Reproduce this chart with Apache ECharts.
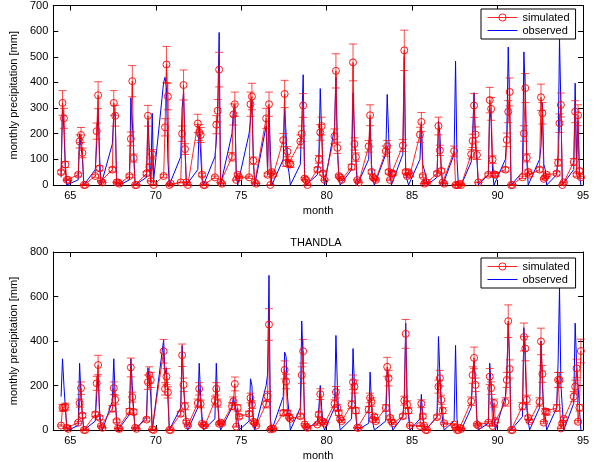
<!DOCTYPE html>
<html>
<head>
<meta charset="utf-8">
<script src="https://cdn.jsdelivr.net/npm/echarts@6/dist/echarts.min.js"></script>
<style>
  html, body { margin: 0; padding: 0; background: #fff; }
  #chart { width: 604px; height: 462px; }
</style>
</head>
<body>
<div id="chart"></div>
<script>
// years (two digits) and the monsoon months that were modelled (month number 6 = Jun ... 11 = Nov)
const years = [64, 65, 66, 67, 68, 69, 70, 71, 72, 73, 74, 75, 76, 77, 78, 79,
               80, 81, 82, 83, 84, 85, 86, 87, 88, 89, 90, 91, 92, 93, 94];
const months = [6, 7, 8, 9, 10, 11];
const xTicks = [65, 70, 75, 80, 85, 90, 95];
const simErrRel = 0.15; // error bar half width, fraction of the simulated value

// top panel, values per year Jun..Nov [mm]
const simTop = [
  [50, 320, 260, 80, 20, 20], [40, 170, 195, 125, 0, 0], [35, 210, 350, 65, 15, 10],
  [60, 320, 270, 10, 10, 5], [35, 180, 405, 105, 0, 0], [45, 270, 70, 15, 120, 0],
  [35, 225, 470, 345, 0, 5], [10, 200, 390, 140, 10, 0], [240, 205, 195, 40, 0, 0],
  [30, 235, 290, 450, 10, 5], [110, 275, 315, 20, 40, 30], [30, 315, 345, 95, 10, 5],
  [260, 40, 315, 0, 50, 40], [175, 355, 85, 130, 85, 80], [170, 200, 310, 25, 20, 0],
  [60, 100, 205, 230, 45, 20], [190, 445, 145, 35, 30, 20], [70, 478, 160, 109, 19, 10],
  [151, 272, 51, 30, 25, 20], [132, 151, 51, 20, 45, 45], [154, 525, 51, 35, 50, 40],
  [196, 246, 35, 5, 10, 10], [45, 230, 135, 55, 10, 5], [132, 0, 0, 0, 5, 0],
  [120, 172, 310, 197, 117, 10], [40, 331, 297, 99, 42, 40], [60, 176, 286, 363, 0, 0],
  [30, 201, 378, 106, 51, 40], [60, 342, 280, 24, 30, 40], [45, 87, 241, 312, 0, 10],
  [90, 286, 40, 272, 55, 30]
];
const obsTop = [
  [30, 300, 220, 60, 0, 0], [20, 200, 150, 100, 0, 0], [60, 160, 300, 120, 0, 0],
  [160, 270, 280, 0, 0, 0], [20, 340, 250, 130, 0, 0], [30, 250, 130, 10, 280, 20],
  [400, 420, 380, 100, 0, 0], [110, 300, 360, 150, 0, 0], [60, 230, 230, 20, 0, 0],
  [110, 170, 300, 595, 0, 0], [200, 290, 310, 50, 0, 0], [200, 250, 330, 100, 0, 0],
  [230, 60, 300, 130, 0, 0], [100, 300, 200, 80, 50, 0], [80, 240, 430, 40, 0, 0],
  [40, 100, 376, 200, 40, 0], [224, 420, 150, 40, 0, 0], [60, 359, 200, 100, 0, 0],
  [100, 260, 80, 20, 0, 0], [120, 353, 200, 60, 0, 0], [120, 500, 40, 20, 0, 0],
  [100, 240, 80, 60, 40, 0], [30, 250, 200, 60, 0, 0], [120, 483, 100, 0, 0, 0],
  [90, 200, 360, 150, 100, 0], [40, 300, 250, 50, 0, 0], [100, 200, 538, 300, 0, 0],
  [50, 519, 350, 100, 0, 0], [100, 150, 320, 80, 60, 0], [40, 120, 570, 300, 0, 0],
  [60, 397, 100, 250, 40, 0]
];

// bottom panel (THANDLA)
const simBot = [
  [20, 100, 100, 105, 10, 5], [33, 121, 188, 65, 0, 0], [70, 210, 292, 55, 18, 10],
  [96, 188, 136, 40, 7, 5], [84, 281, 148, 81, 10, 5], [47, 215, 247, 225, 3, 0],
  [354, 185, 240, 169, 0, 0], [73, 336, 203, 107, 37, 20], [121, 185, 117, 28, 22, 20],
  [132, 185, 121, 28, 33, 30], [107, 129, 207, 15, 99, 60], [73, 144, 114, 37, 33, 20],
  [117, 151, 474, 3, 7, 5], [77, 270, 218, 77, 60, 50], [62, 247, 354, 25, 15, 10],
  [25, 70, 161, 40, 37, 30], [118, 170, 99, 77, 50, 40], [114, 215, 195, 87, 10, 10],
  [92, 144, 126, 47, 60, 40], [99, 284, 233, 55, 40, 30], [62, 132, 432, 114, 87, 20],
  [18, 118, 62, 20, 0, 0], [58, 195, 233, 136, 87, 30], [25, 10, 0, 0, 10, 5],
  [129, 247, 324, 203, 25, 20], [33, 240, 188, 18, 121, 40], [126, 225, 489, 274, 0, 0],
  [107, 418, 366, 136, 55, 40], [126, 398, 252, 33, 84, 80], [99, 225, 225, 7, 30, 50],
  [150, 195, 277, 37, 100, 355]
];
const obsBot = [
  [150, 320, 200, 100, 10, 0], [20, 300, 150, 60, 0, 0], [40, 160, 250, 90, 20, 0],
  [130, 320, 150, 40, 0, 0], [70, 320, 200, 80, 0, 0], [60, 280, 220, 150, 0, 0],
  [405, 250, 280, 150, 0, 0], [100, 380, 200, 100, 20, 0], [100, 300, 150, 60, 0, 0],
  [50, 300, 120, 40, 0, 0], [100, 150, 110, 90, 60, 0], [40, 230, 200, 50, 0, 0],
  [200, 250, 695, 50, 0, 0], [150, 350, 330, 150, 80, 0], [100, 490, 300, 50, 0, 0],
  [40, 100, 200, 100, 20, 0], [100, 425, 200, 60, 0, 0], [50, 366, 200, 60, 0, 0],
  [30, 260, 120, 30, 0, 0], [40, 270, 230, 60, 60, 0], [60, 150, 480, 120, 60, 0],
  [50, 160, 50, 20, 0, 0], [60, 420, 250, 100, 40, 0], [40, 380, 50, 0, 0, 0],
  [100, 240, 310, 200, 50, 0], [30, 300, 200, 100, 50, 0], [150, 250, 480, 300, 0, 0],
  [60, 460, 300, 100, 40, 0], [100, 400, 200, 80, 60, 0], [100, 300, 640, 200, 100, 0],
  [120, 480, 300, 200, 100, 0]
];

// month -> decimal year at mid month
function toPoints(table) {
  const out = [];
  years.forEach((y, i) => {
    months.forEach((m, j) => {
      out.push([y + (m - 0.5) / 12, table[i][j]]);
    });
  });
  return out;
}

const FONT = 'Liberation Sans, Arial, sans-serif';
const RED = '#ff0000';
const BLUE = '#0000ff';

function xAxes(g) {
  return [
    {
      type: 'value', gridIndex: g, min: 64, max: 95, position: 'bottom',
      axisLine: { onZero: false, lineStyle: { color: '#000', width: 1 } },
      axisTick: { inside: true, length: 5, customValues: xTicks, lineStyle: { color: '#000' } },
      axisLabel: { customValues: xTicks, color: '#000', fontSize: 11, fontFamily: FONT, margin: 5 },
      splitLine: { show: false },
      name: 'month', nameLocation: 'middle', nameGap: 20,
      nameTextStyle: { color: '#000', fontSize: 11, fontFamily: FONT }
    },
    {
      type: 'value', gridIndex: g, min: 64, max: 95, position: 'top',
      axisLine: { onZero: false, lineStyle: { color: '#000', width: 1 } },
      axisTick: { inside: true, length: 5, customValues: xTicks, lineStyle: { color: '#000' } },
      axisLabel: { show: false },
      splitLine: { show: false }
    }
  ];
}

function yAxes(g, max, step) {
  return [
    {
      type: 'value', gridIndex: g, min: 0, max: max, interval: step, position: 'left',
      axisLine: { show: true, onZero: false, lineStyle: { color: '#000', width: 1 } },
      axisTick: { show: true, inside: true, length: 5, lineStyle: { color: '#000' } },
      axisLabel: { color: '#000', fontSize: 11, fontFamily: FONT, margin: 5 },
      splitLine: { show: false },
      name: 'monthly precipitation [mm]', nameLocation: 'middle', nameGap: 28,
      nameTextStyle: { color: '#000', fontSize: 11, fontFamily: FONT }
    },
    {
      type: 'value', gridIndex: g, min: 0, max: max, interval: step, position: 'right',
      axisLine: { show: true, onZero: false, lineStyle: { color: '#000', width: 1 } },
      axisTick: { show: true, inside: true, length: 5, lineStyle: { color: '#000' } },
      axisLabel: { show: false },
      splitLine: { show: false }
    }
  ];
}

function errBars(points, xi, yi) {
  return {
    type: 'custom', name: 'err', xAxisIndex: xi, yAxisIndex: yi, z: 2,
    silent: true,
    data: points.map(p => [p[0], p[1] * (1 - simErrRel), p[1] * (1 + simErrRel)]),
    renderItem: function (params, api) {
      const lo = api.coord([api.value(0), api.value(1)]);
      const hi = api.coord([api.value(0), api.value(2)]);
      const w = 4;
      const st = { stroke: RED, lineWidth: 1, opacity: 0.7 };
      return {
        type: 'group',
        children: [
          { type: 'line', shape: { x1: lo[0], y1: lo[1], x2: hi[0], y2: hi[1] }, style: st },
          { type: 'line', shape: { x1: lo[0] - w, y1: lo[1], x2: lo[0] + w, y2: lo[1] }, style: st },
          { type: 'line', shape: { x1: hi[0] - w, y1: hi[1], x2: hi[0] + w, y2: hi[1] }, style: st }
        ]
      };
    }
  };
}

function panelSeries(sim, obs, g) {
  const simPts = toPoints(sim);
  const obsPts = toPoints(obs);
  const xi = g * 2, yi = g * 2;
  return [
    {
      name: 'observed', type: 'line', xAxisIndex: xi, yAxisIndex: yi, z: 1,
      data: obsPts, symbol: 'none', animation: false,
      lineStyle: { color: BLUE, width: 1 }, itemStyle: { color: BLUE }
    },
    errBars(simPts, xi, yi),
    {
      name: 'simulated', type: 'line', xAxisIndex: xi, yAxisIndex: yi, z: 3,
      data: simPts, symbol: 'circle', symbolSize: 7, animation: false,
      lineStyle: { color: RED, width: 1, opacity: 0.85 },
      itemStyle: { color: 'rgba(0,0,0,0)', borderColor: RED, borderWidth: 1, opacity: 0.9 }
    }
  ];
}

function legendAt(top) {
  return {
    data: [
      {
        name: 'simulated',
        lineStyle: { width: 1, color: RED },
        itemStyle: { color: 'rgba(0,0,0,0)', borderColor: RED, borderWidth: 1 }
      },
      {
        name: 'observed',
        lineStyle: { width: 1, color: BLUE },
        itemStyle: { opacity: 0 }
      }
    ],
    orient: 'vertical',
    left: 481, top: top, width: 96,
    backgroundColor: '#fff', borderColor: '#000', borderWidth: 1, borderRadius: 0,
    padding: [3, 6, 3, 6], itemGap: 2, itemWidth: 30, itemHeight: 9,
    textStyle: { color: '#000', fontSize: 11, fontFamily: FONT },
    selectedMode: false, z: 10
  };
}

const chart = echarts.init(document.getElementById('chart'), null, { renderer: 'canvas' });
chart.setOption({
  animation: false,
  backgroundColor: '#fff',
  textStyle: { fontFamily: FONT },
  title: {
    text: 'THANDLA', left: 311, top: 232, textAlign: 'center',
    textStyle: { color: '#000', fontSize: 11, fontWeight: 'normal', fontFamily: FONT }
  },
  legend: [legendAt(9), legendAt(258)],
  grid: [
    { left: 39, right: 21, top: 3, height: 182 },
    { left: 39, right: 21, top: 252, height: 180 }
  ],
  xAxis: [...xAxes(0), ...xAxes(1)],
  yAxis: [...yAxes(0, 700, 100), ...yAxes(1, 800, 200)],
  series: [
    ...panelSeries(simTop, obsTop, 0),
    ...panelSeries(simBot, obsBot, 1)
  ]
});
</script>
</body>
</html>
